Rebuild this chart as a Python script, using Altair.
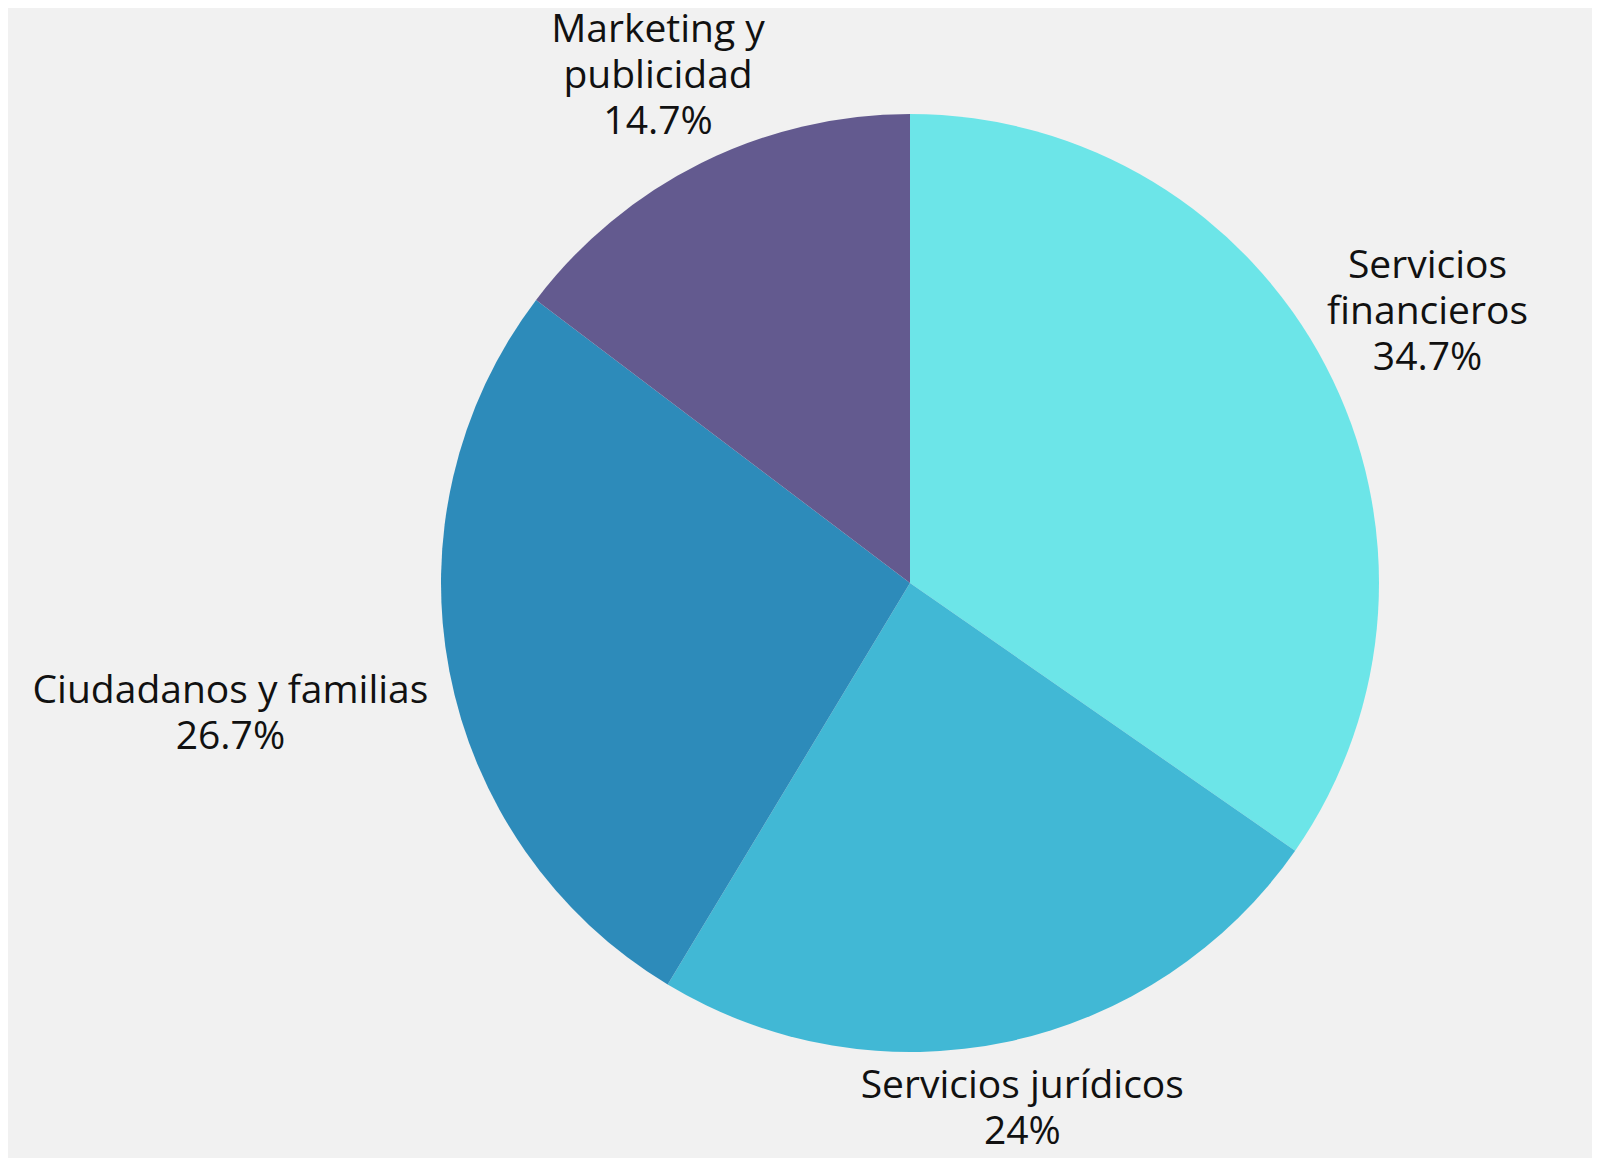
import altair as alt
import pandas as pd

categories = ["Servicios financieros", "Servicios jurídicos", "Ciudadanos y familias", "Marketing y publicidad"]
values = [34.7, 24, 26.7, 14.7]
label_text = ["Servicios\nfinancieros\n34.7%", "Servicios jurídicos\n24%", "Ciudadanos y familias\n26.7%", "Marketing y\npublicidad\n14.7%"]
colors = ["#6ce5e8", "#41b8d5", "#2d8bba", "#635a8f"]
label_radius = [584, 538, 692, 566]

df = pd.DataFrame({
    "category": categories,
    "value": values,
    "label": label_text,
    "order": list(range(len(categories))),
})

CX, CY = 902, 575
R = 469
FONT = "Open Sans"
LH = 46

base = alt.Chart(df)

arc = base.mark_arc(outerRadius=R, stroke=None).encode(
    theta=alt.Theta("value:Q", stack=True),
    order=alt.Order("order:Q", sort="ascending"),
    color=alt.Color("category:N", scale=alt.Scale(domain=categories, range=colors), legend=None),
    x=alt.value(CX),
    y=alt.value(CY),
)

layers = [arc]
for cat, txt, rr in zip(categories, label_text, label_radius):
    n = txt.count("\n") + 1
    t = (
        base.transform_window(cum="sum(value)", sort=[alt.SortField("order")])
        .transform_calculate(mid="datum.cum - datum.value / 2")
        .transform_filter(alt.datum.category == cat)
        .mark_text(font=FONT, fontSize=39, color="#111111", lineBreak="\n",
                   lineHeight=LH, align="center", baseline="middle",
                   dy=-(n - 1) * LH / 2)
        .encode(
            theta=alt.Theta("mid:Q", stack=False),
            radius=alt.value(rr),
            text="label:N",
            x=alt.value(CX),
            y=alt.value(CY),
        )
    )
    layers.append(t)

chart = (
    alt.layer(*layers)
    .properties(width=1584, height=1150, background="#f1f1f1",
                autosize=alt.AutoSizeParams(type="none"), padding=0)
    .configure_view(stroke=None, fill="#f1f1f1")
)

chart.save("out.html", embed_options={"renderer": "svg", "actions": False})
